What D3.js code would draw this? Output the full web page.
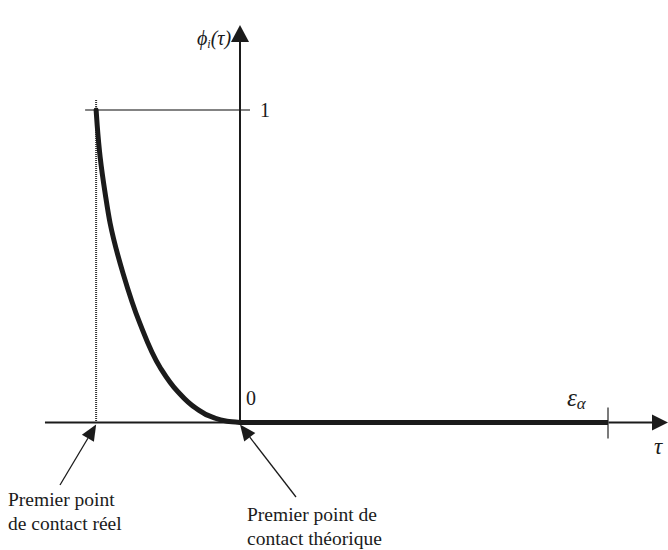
<!DOCTYPE html>
<html><head><meta charset="utf-8">
<script src="https://cdn.jsdelivr.net/npm/d3@7"></script>
<style>html,body{margin:0;padding:0;background:#fff;}svg{display:block;}
text{font-family:"Liberation Serif","Times New Roman",Times,"DejaVu Serif","Noto Serif",serif;}</style>
</head><body>
<script>
// Data (τ in units of ε_α, φ normalised)
const curveTau = [-0.391, -0.388, -0.380, -0.366, -0.353, -0.318, -0.272, -0.217, -0.170, -0.120, -0.075, -0.035, 0];
const curvePhi = [1.0, 0.95, 0.849, 0.73, 0.638, 0.478, 0.317, 0.176, 0.100, 0.046, 0.017, 0.004, 0];
const plateauTau = [0, 1];
const plateauPhi = [0, 0];
const yTickLabels = ["0", "1"];
const tauStart = -0.391;        // premier point de contact réel
const tauEnd = 1;               // ε_α
const axisTau = [-0.53, 1.163];
const axisPhiMax = 1.272;
const annotations = [
  {lines: ["Premier point", "de contact réel"], tau: tauStart},
  {lines: ["Premier point de", "contact théorique"], tau: 0}
];

const W = 668, H = 550;
const x = d3.scaleLinear().domain([0, 1]).range([240, 608]);
const y = d3.scaleLinear().domain([0, 1]).range([422.5, 110]);

const svg = d3.select("body").append("svg").attr("width", W).attr("height", H);
const ink = "#1b1b1b", grey = "#5a5a5a";

// y = 1 reference line
svg.append("line").attr("x1", x(tauStart) - 11).attr("x2", x(0) + 10)
  .attr("y1", y(1)).attr("y2", y(1)).attr("stroke", grey).attr("stroke-width", 1.6);

// dotted vertical line at first real contact
svg.append("line").attr("x1", x(tauStart)).attr("x2", x(tauStart))
  .attr("y1", y(1) - 10).attr("y2", y(0))
  .attr("stroke", "#333").attr("stroke-width", 2).attr("stroke-dasharray", "1,1");

// x axis
svg.append("line").attr("x1", x(axisTau[0])).attr("x2", x(axisTau[1]) - 12)
  .attr("y1", y(0)).attr("y2", y(0)).attr("stroke", ink).attr("stroke-width", 2);
svg.append("path")
  .attr("d", `M${x(axisTau[1])},${y(0)} L${x(axisTau[1]) - 16},${y(0) - 8} L${x(axisTau[1]) - 16},${y(0) + 8} Z`)
  .attr("fill", ink);

// y axis
svg.append("line").attr("x1", x(0)).attr("x2", x(0))
  .attr("y1", y(0)).attr("y2", y(axisPhiMax) + 14).attr("stroke", ink).attr("stroke-width", 2);
svg.append("path")
  .attr("d", `M${x(0)},${y(axisPhiMax)} L${x(0) - 9},${y(axisPhiMax) + 17} L${x(0) + 9},${y(axisPhiMax) + 17} Z`)
  .attr("fill", ink);

// ε_α tick
svg.append("line").attr("x1", x(tauEnd)).attr("x2", x(tauEnd))
  .attr("y1", y(0) - 15).attr("y2", y(0) + 16).attr("stroke", grey).attr("stroke-width", 1.6);

// curve
const line = d3.line().x(d => x(d[0])).y(d => y(d[1])).curve(d3.curveMonotoneY);
svg.append("path").datum(curveTau.map((t, i) => [t, curvePhi[i]]))
  .attr("d", line).attr("fill", "none").attr("stroke", ink).attr("stroke-width", 5).attr("stroke-linecap", "round");
svg.append("path").datum(plateauTau.map((t, i) => [t, plateauPhi[i]]))
  .attr("d", d3.line().x(d => x(d[0])).y(d => y(d[1]))).attr("fill", "none")
  .attr("stroke", ink).attr("stroke-width", 5);

// tick labels
svg.append("text").attr("x", x(0) + 20).attr("y", y(1) + 7).text(yTickLabels[1])
  .attr("font-size", 20).attr("fill", ink);
svg.append("text").attr("x", x(0) + 6).attr("y", y(0) - 18).text(yTickLabels[0])
  .attr("font-size", 20).attr("fill", ink);

// axis titles
const yt = svg.append("text").attr("x", x(0) - 43).attr("y", y(axisPhiMax) + 20)
  .attr("font-size", 20).attr("font-style", "italic").attr("fill", ink);
yt.append("tspan").text("ϕ");
yt.append("tspan").text("i").attr("font-size", 12).attr("dy", 3);
yt.append("tspan").text("(τ)").attr("dy", -3);

const et = svg.append("text").attr("x", x(tauEnd) - 41).attr("y", y(0) - 17)
  .attr("font-size", 25).attr("font-style", "italic").attr("fill", ink);
et.append("tspan").text("ε");
et.append("tspan").text("α").attr("font-size", 17).attr("dy", 3);

svg.append("text").attr("x", x(axisTau[1]) - 14).attr("y", y(0) + 31).text("τ")
  .attr("font-size", 23).attr("font-style", "italic").attr("fill", ink);

// annotations
const ann = [
  {tail: [60, 485], textX: 8, base: 506},
  {tail: [296, 497], textX: 247, base: 521}
];
annotations.forEach((a, i) => {
  const tip = [x(a.tau), y(0) + 2];
  const tail = ann[i].tail;
  const ang = Math.atan2(tip[1] - tail[1], tip[0] - tail[0]);
  const L = 16, hw = 7;
  const bx = tip[0] - L * Math.cos(ang), by = tip[1] - L * Math.sin(ang);
  svg.append("line").attr("x1", tail[0]).attr("y1", tail[1]).attr("x2", bx).attr("y2", by)
    .attr("stroke", ink).attr("stroke-width", 1.3);
  svg.append("path").attr("d",
    `M${tip[0]},${tip[1]} L${bx - hw * Math.sin(ang)},${by + hw * Math.cos(ang)} L${bx + hw * Math.sin(ang)},${by - hw * Math.cos(ang)} Z`)
    .attr("fill", ink);
  a.lines.forEach((ln, j) => {
    svg.append("text").attr("x", ann[i].textX).attr("y", ann[i].base + j * 24).text(ln)
      .attr("font-size", 19.5).attr("fill", ink);
  });
});
</script>
</body></html>
